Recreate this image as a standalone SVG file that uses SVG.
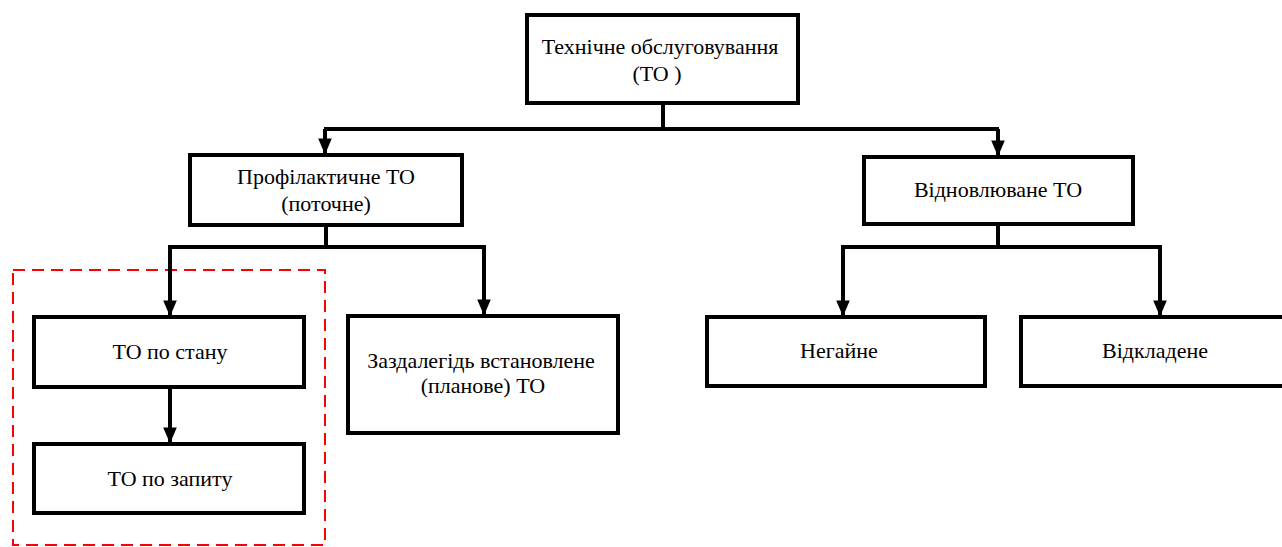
<svg xmlns="http://www.w3.org/2000/svg" width="1282" height="547" viewBox="0 0 1282 547">
<style>
.box{fill:#fff;stroke:#000;stroke-width:4}
.t{font-family:"Liberation Serif","Times New Roman",serif;font-size:22px;fill:#000;text-anchor:middle}
.c{fill:none;stroke:#000;stroke-width:4}
.dash{fill:none;stroke:#ff0000;stroke-width:2;stroke-dasharray:12,7}
</style>
<defs>
<marker id="ah" markerWidth="5" markerHeight="5" refX="3.6" refY="2" orient="auto" markerUnits="strokeWidth" overflow="visible">
<path d="M0,0.3 L4,2 L0,3.7 Z" fill="#000"/>
</marker>
</defs>
<rect class="dash" x="13" y="270" width="312" height="275"/>
<g id="connectors">
<path class="c" d="M663,103 V129"/>
<path class="c" d="M324,129 H999"/>
<path class="c" d="M325,129 V153" marker-end="url(#ah)"/>
<path class="c" d="M998,129 V155" marker-end="url(#ah)"/>
<path class="c" d="M326,225 V247"/>
<path class="c" d="M168,247 H486"/>
<path class="c" d="M170,247 V315" marker-end="url(#ah)"/>
<path class="c" d="M484,247 V314" marker-end="url(#ah)"/>
<path class="c" d="M170,387 V442" marker-end="url(#ah)"/>
<path class="c" d="M998,224 V247"/>
<path class="c" d="M841,247 H1162"/>
<path class="c" d="M843,247 V315" marker-end="url(#ah)"/>
<path class="c" d="M1160,247 V315" marker-end="url(#ah)"/>
</g>
<g id="n-root">
<rect class="box" x="527" y="15" width="271" height="88"/>
<text class="t" x="660" y="54">Технічне обслуговування</text>
<text class="t" x="657" y="81">(ТО )</text>
</g>
<g id="n-prof">
<rect class="box" x="190" y="155" width="272" height="70"/>
<text class="t" x="326" y="184">Профілактичне ТО</text>
<text class="t" x="326" y="211">(поточне)</text>
</g>
<g id="n-vidn">
<rect class="box" x="864" y="157" width="269" height="67"/>
<text class="t" x="998" y="197">Відновлюване ТО</text>
</g>
<g id="n-stan">
<rect class="box" x="34" y="317" width="270" height="70"/>
<text class="t" x="170" y="359">ТО по стану</text>
</g>
<g id="n-zapyt">
<rect class="box" x="34" y="444" width="270" height="69"/>
<text class="t" x="170" y="486">ТО по запиту</text>
</g>
<g id="n-plan">
<rect class="box" x="348" y="316" width="270" height="117"/>
<text class="t" x="481" y="368">Заздалегідь встановлене</text>
<text class="t" x="483" y="393">(планове) ТО</text>
</g>
<g id="n-neh">
<rect class="box" x="707" y="317" width="278" height="69"/>
<text class="t" x="839" y="358">Негайне</text>
</g>
<g id="n-vidk">
<rect class="box" x="1021" y="317" width="270" height="69"/>
<text class="t" x="1155" y="358">Відкладене</text>
</g>
</svg>
